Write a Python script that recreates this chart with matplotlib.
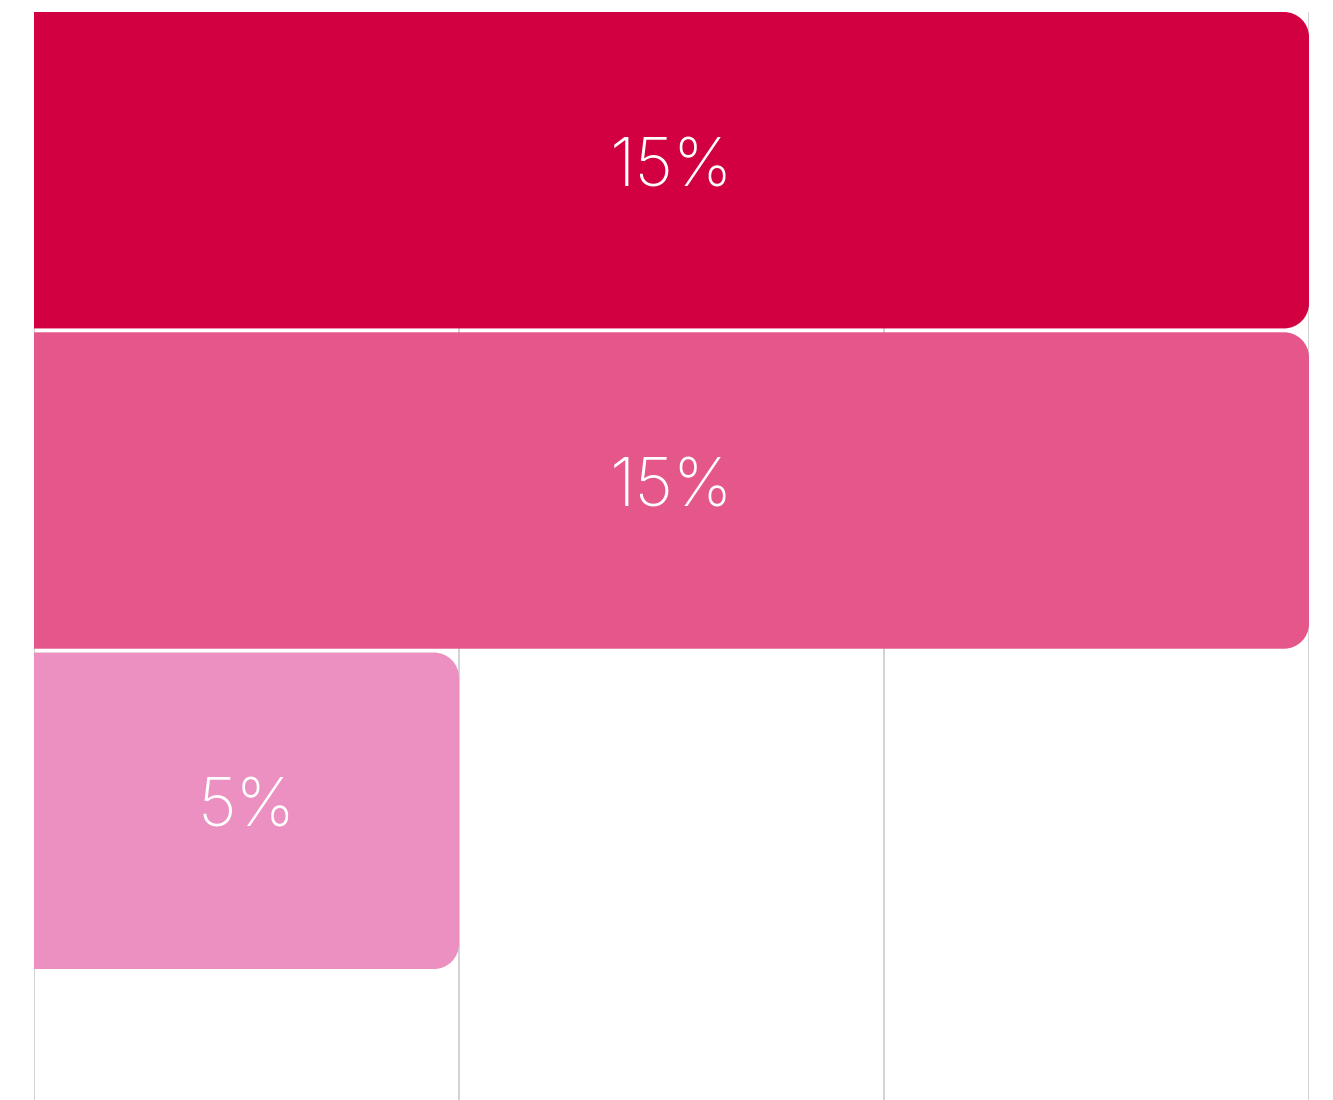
import matplotlib.pyplot as plt
from matplotlib.path import Path
from matplotlib.patches import PathPatch

# data
categories = ["A", "B", "C"]
values = [15, 15, 5]
labels = ["15%", "15%", "5%"]
colors = ["#D20040", "#E5578A", "#EB90C1"]

plt.rcParams['font.family'] = ['Inter', 'DejaVu Sans']

fig = plt.figure(figsize=(13.33, 11), dpi=100)
ax = fig.add_axes([34 / 1333, 0, 1275 / 1333, 1088 / 1100])

ax.set_xlim(0, 15)
ax.set_ylim(2.903, -0.494)
ax.set_xticks([0, 5, 10, 15])
ax.grid(axis="x", color="#cccccc", linewidth=1.2, zorder=0)
ax.set_axisbelow(True)
for s in ax.spines.values():
    s.set_visible(False)
ax.tick_params(left=False, bottom=False, labelleft=False, labelbottom=False)

# pixel scales, used for the corner radius
px_x = 1275 / 15
px_y = 1088 / 3.397
r = 25
rx, ry = r / px_x, r / px_y
k = 0.5523


def rounded_right_bar(y, w, h):
    y0, y1 = y - h / 2, y + h / 2
    verts = [
        (0, y0), (w - rx, y0),
        (w - rx + k * rx, y0), (w, y0 + ry - k * ry), (w, y0 + ry),
        (w, y1 - ry),
        (w, y1 - ry + k * ry), (w - rx + k * rx, y1), (w - rx, y1),
        (0, y1), (0, y0),
    ]
    codes = [Path.MOVETO, Path.LINETO,
             Path.CURVE4, Path.CURVE4, Path.CURVE4,
             Path.LINETO,
             Path.CURVE4, Path.CURVE4, Path.CURVE4,
             Path.LINETO, Path.CLOSEPOLY]
    return Path(verts, codes)


bar_h = 0.988
for i, (v, c, lab) in enumerate(zip(values, colors, labels)):
    patch = PathPatch(rounded_right_bar(i, v, bar_h), facecolor=c,
                      edgecolor="none", zorder=2)
    ax.add_patch(patch)
    ax.text(v / 2, i - 0.005, lab, ha="center", va="center", color="white",
            fontsize=48, fontweight="light", zorder=3)

fig.savefig("out.png", dpi=100)
